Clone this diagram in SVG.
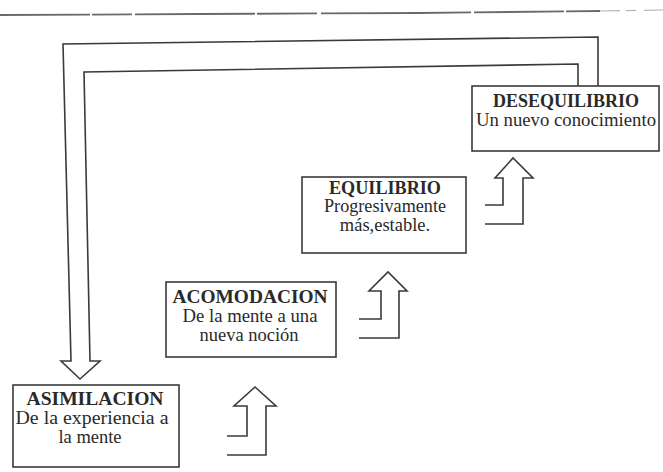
<svg xmlns="http://www.w3.org/2000/svg" width="663" height="472" viewBox="0 0 663 472">
<style>
.box{fill:#fff;stroke:#3a3a3a;stroke-width:1.6}
.ln{fill:none;stroke:#3a3a3a;stroke-width:1.6;stroke-linejoin:miter}
.t{font-family:"Liberation Serif",serif;font-size:19px;font-weight:bold;fill:#2a2a2a;text-anchor:middle}
.s{font-family:"Liberation Serif",serif;font-size:18.5px;fill:#2a2a2a;text-anchor:middle}
.scan{fill:none;stroke:#6a6a6a;stroke-width:1.8;stroke-dasharray:90 2 40 3 120 2 60 4 150 3}
.scan2{fill:none;stroke:#b5b5b5;stroke-width:1.2;stroke-dasharray:20 6 10 8}
</style>
<rect width="663" height="472" fill="#fff"/>
<path class="scan" d="M0,15 L200,14 L420,13 L600,11"/>
<path class="scan2" d="M600,11 L663,10"/>
<g id="connectors">
<path class="ln" d="M598,87 L598,37 L63,44 L71,361 L61,361 L80,379 L100,361 L90,361 L84,72 L578,64 L578,87"/>
<path class="ln" d="M485,205 L503,205 L503,178 L495,178 L513,158 L533,178 L523,178 L523,224 L485,224"/>
<path class="ln" d="M359,319 L381,319 L381,291 L369,291 L388,272 L407,291 L399,291 L399,338 L359,338"/>
<path class="ln" d="M227,436 L247,436 L247,406 L234,406 L255,387 L276,406 L266,406 L266,455 L227,455"/>
</g>
<g id="desequilibrio">
<rect class="box" x="472" y="86" width="187" height="65"/>
<text class="t" x="566" y="107" textLength="146" lengthAdjust="spacingAndGlyphs">DESEQUILIBRIO</text>
<text class="s" x="566" y="126" textLength="180" lengthAdjust="spacingAndGlyphs">Un nuevo conocimiento</text>
</g>
<g id="equilibrio">
<rect class="box" x="302" y="177" width="164" height="76"/>
<text class="t" x="385" y="194" textLength="112" lengthAdjust="spacingAndGlyphs">EQUILIBRIO</text>
<text class="s" x="385" y="212" textLength="122" lengthAdjust="spacingAndGlyphs">Progresivamente</text>
<text class="s" x="385" y="231">más,estable.</text>
</g>
<g id="acomodacion">
<rect class="box" x="166" y="282" width="170" height="75"/>
<text class="t" x="250" y="303" textLength="155" lengthAdjust="spacingAndGlyphs">ACOMODACION</text>
<text class="s" x="250" y="322" textLength="135" lengthAdjust="spacingAndGlyphs">De la mente a una</text>
<text class="s" x="249" y="341">nueva noción</text>
</g>
<g id="asimilacion">
<rect class="box" x="13" y="385" width="166" height="82"/>
<text class="t" x="95" y="405" textLength="137" lengthAdjust="spacingAndGlyphs">ASIMILACION</text>
<text class="s" x="92" y="424" textLength="153" lengthAdjust="spacingAndGlyphs">De la experiencia a</text>
<text class="s" x="90" y="443">la mente</text>
</g>
</svg>
